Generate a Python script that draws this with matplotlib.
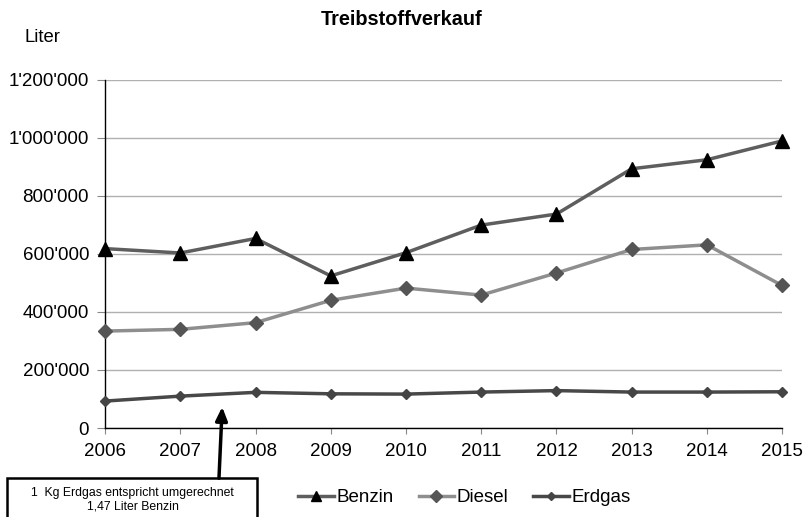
import matplotlib.pyplot as plt
from matplotlib.ticker import FuncFormatter

plt.rcParams['font.family'] = ['Liberation Sans', 'DejaVu Sans']

# Verkaufte Mengen in Liter pro Jahr
jahre = [2006, 2007, 2008, 2009, 2010, 2011, 2012, 2013, 2014, 2015]
benzin = [618000, 603000, 653000, 524000, 604000, 699000, 737000, 893000, 924000, 989000]
diesel = [334000, 340000, 363000, 440000, 482000, 458000, 534000, 615000, 631000, 491000]
erdgas = [93000, 110000, 123000, 118000, 117000, 124000, 129000, 124000, 124000, 125000]

y_ticks = [0, 200000, 400000, 600000, 800000, 1000000, 1200000]

fig = plt.figure(figsize=(8.08, 5.17), dpi=100)
ax = fig.add_axes([0.13, 0.172, 0.838, 0.674])

ax.plot(jahre, benzin, color='#5e5e5e', lw=2.5, marker='^', ms=10,
        mfc='black', mec='black', label='Benzin', zorder=3, clip_on=False)
ax.plot(jahre, diesel, color='#8e8e8e', lw=2.5, marker='D', ms=7.5,
        mfc='#555555', mec='#555555', label='Diesel', zorder=3, clip_on=False)
ax.plot(jahre, erdgas, color='#484848', lw=2.5, marker='D', ms=5,
        mfc='#444444', mec='#444444', label='Erdgas', zorder=3, clip_on=False)

ax.set_xlim(2006, 2015)
ax.set_ylim(0, 1200000)
ax.set_xticks(jahre)
ax.set_yticks(y_ticks)
ax.yaxis.set_major_formatter(FuncFormatter(lambda v, p: f'{int(v):,}'.replace(',', "'")))
ax.tick_params(axis='x', labelsize=13.5, length=4, width=0.8, color='#888888', pad=7)
ax.tick_params(axis='y', labelsize=13.5, length=5.5, width=0.8, color='#888888', pad=6)
ax.yaxis.grid(True, color='#b0b0b0', lw=1)
ax.set_axisbelow(True)
for s in ['top', 'right']:
    ax.spines[s].set_visible(False)
for s in ['left', 'bottom']:
    ax.spines[s].set_color('black')
    ax.spines[s].set_linewidth(1)

fig.text(0.497, 0.963, 'Treibstoffverkauf', ha='center', va='center',
         fontsize=14.3, fontweight='bold')
fig.text(0.053, 0.928, 'Liter', ha='center', va='center', fontsize=13.3)

ax.legend(loc='center', bbox_to_anchor=(0.575, 0.037), bbox_transform=fig.transFigure,
          ncol=3, frameon=False, fontsize=13.5, handlelength=1.9, handletextpad=0.15,
          columnspacing=1.3, borderaxespad=0, markerscale=0.75)

# Hinweis zur Umrechnung mit Pfeil
fig.text(0.164, 0.034, '1  Kg Erdgas entspricht umgerechnet\n1,47 Liter Benzin',
         ha='center', va='center', fontsize=8.8, linespacing=1.15)
fig.patches.append(plt.Rectangle((0.009, -0.02), 0.309, 0.095, transform=fig.transFigure,
                                 fill=False, ec='black', lw=1.8))
ax.annotate('', xy=(0.275, 0.213), xycoords='figure fraction',
            xytext=(0.271, 0.075), textcoords='figure fraction',
            arrowprops=dict(arrowstyle='-|>,head_length=0.8,head_width=0.35',
                            color='black', lw=2.5, shrinkA=0, shrinkB=0),
            annotation_clip=False)

fig.savefig('out.png', dpi=100)
